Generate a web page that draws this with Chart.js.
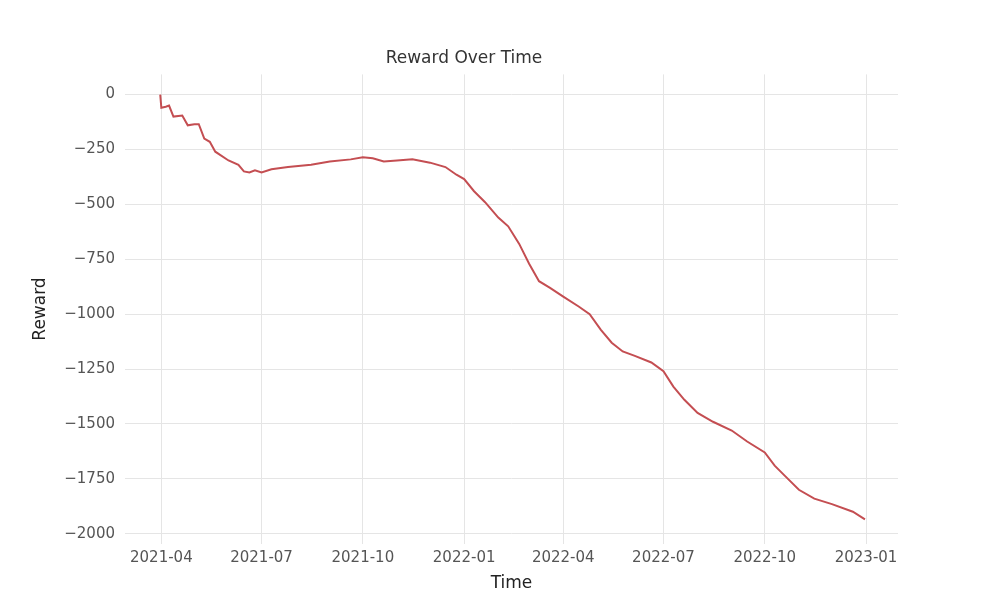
<!DOCTYPE html>
<html>
<head>
<meta charset="utf-8">
<script src="https://cdn.jsdelivr.net/npm/chart.js@4"></script>
<style>
  body { margin: 0; background: #fff; }
  #wrap { width: 1000px; height: 600px; }
</style>
</head>
<body>
<div id="wrap"><canvas id="myChart"></canvas></div>
<script>
let dates = ['2021-03-31','2021-04-01','2021-04-05','2021-04-08','2021-04-12','2021-04-20','2021-04-25','2021-05-01','2021-05-05','2021-05-10','2021-05-15','2021-05-20','2021-06-01','2021-06-10','2021-06-15','2021-06-20','2021-06-25','2021-07-01','2021-07-10','2021-07-25','2021-08-15','2021-09-01','2021-09-20','2021-10-01','2021-10-10','2021-10-20','2021-11-01','2021-11-15','2021-12-01','2021-12-15','2021-12-25','2022-01-01','2022-01-10','2022-01-20','2022-02-01','2022-02-10','2022-02-20','2022-03-01','2022-03-10','2022-03-20','2022-04-01','2022-04-15','2022-04-25','2022-05-05','2022-05-15','2022-05-25','2022-06-05','2022-06-20','2022-07-01','2022-07-10','2022-07-20','2022-08-01','2022-08-15','2022-09-01','2022-09-15','2022-10-01','2022-10-10','2022-10-20','2022-11-01','2022-11-15','2022-12-01','2022-12-20','2022-12-31'];
let reward = [0,-60,-55,-50,-100,-95,-140,-135,-135,-200,-215,-260,-300,-320,-350,-355,-345,-355,-340,-330,-320,-305,-295,-285,-290,-305,-300,-295,-310,-330,-365,-385,-440,-490,-560,-600,-680,-770,-850,-880,-920,-965,-1000,-1070,-1130,-1170,-1190,-1220,-1260,-1330,-1390,-1450,-1490,-1530,-1580,-1630,-1690,-1740,-1800,-1840,-1865,-1900,-1935];
let tickDates = ['2021-04-01','2021-07-01','2021-10-01','2022-01-01','2022-04-01','2022-07-01','2022-10-01','2023-01-01'];
let yTicks = [0,-250,-500,-750,-1000,-1250,-1500,-1750,-2000];

const base = Date.UTC(2021,3,1);
function toDay(s){ let p = s.split('-'); return (Date.UTC(+p[0],+p[1]-1,+p[2]) - base)/86400000; }
let pts = dates.map((d,i)=>({x: toDay(d), y: reward[i]}));
let xTicks = tickDates.map(toDay);
let xLabel = {}; tickDates.forEach(d => xLabel[toDay(d)] = d.slice(0,7));

let grid = { color: '#e5e5e5', lineWidth: 1, drawTicks: false };
let tickFont = { family: "'DejaVu Sans', sans-serif", size: 15 };

new Chart(document.getElementById('myChart'), {
    type: 'line',
    data: { datasets: [{ data: pts, borderColor: '#c44e52', borderWidth: 2, pointRadius: 0, tension: 0 }] },
    options: {
        responsive: true,
        maintainAspectRatio: false,
        animation: false,
        layout: { padding: { top: 48, right: 102, bottom: 6, left: 30 } },
        plugins: {
            legend: { display: false },
            tooltip: { enabled: false },
            title: { display: true, text: 'Reward Over Time', color: '#333',
                font: { family: "'DejaVu Sans', sans-serif", size: 17, weight: 'normal' }, padding: { bottom: 6 } }
        },
        scales: {
            x: {
                type: 'linear', min: -33, max: 669,
                border: { display: false }, grid: grid,
                afterBuildTicks: ax => { ax.ticks = xTicks.map(v => ({value: v})); },
                ticks: { color: '#555', font: tickFont, padding: 6, maxRotation: 0, callback: v => xLabel[v] },
                title: { display: true, text: 'Time', color: '#222', font: { family: "'DejaVu Sans', sans-serif", size: 17 }, padding: 0 }
            },
            y: {
                min: -2045, max: 92,
                border: { display: false }, grid: grid,
                afterBuildTicks: ax => { ax.ticks = yTicks.map(v => ({value: v})); },
                afterFit: ax => { ax.width = 95; },
                ticks: { color: '#555', font: tickFont, padding: 10, callback: v => String(v).replace('-', '\u2212') },
                title: { display: true, text: 'Reward', color: '#222', font: { family: "'DejaVu Sans', sans-serif", size: 17 }, padding: 0 }
            }
        }
    }
});
</script>
</body>
</html>
